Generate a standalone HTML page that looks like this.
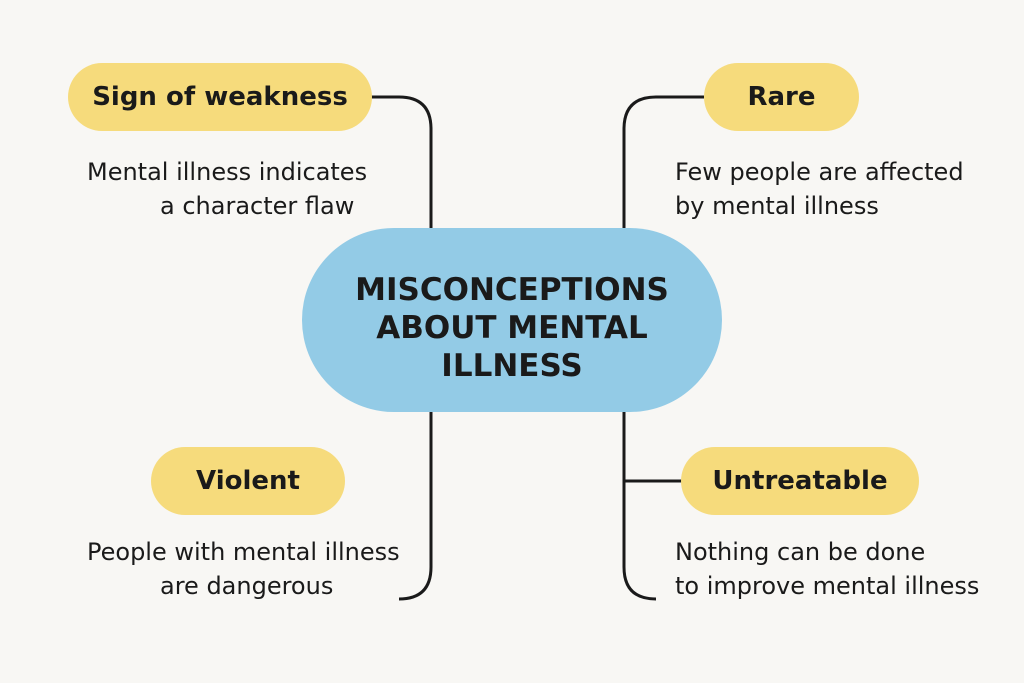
<!DOCTYPE html>
<html><head><style>
body{margin:0;width:1024px;height:683px;background:#f8f7f4;position:relative;overflow:hidden;font-family:"DejaVu Sans","Liberation Sans",sans-serif;color:#1a1a1a}
.p{position:absolute;background:#f6db7c;border-radius:34px;height:68px;display:flex;align-items:center;justify-content:center;font-weight:bold;font-size:26px}
.t{position:absolute;font-size:24px;white-space:nowrap;line-height:34px}
.c{position:absolute;left:302px;top:228px;width:420px;height:184px;border-radius:92px;background:#93cbe6;display:flex;align-items:center;justify-content:center;text-align:center;font-weight:bold;font-size:31px;line-height:38px;padding-top:16px;box-sizing:border-box}
</style></head><body>
<svg width="1024" height="683" style="position:absolute;left:0;top:0" fill="none" stroke="#1a1a1a" stroke-width="3">
<path d="M370 97 H399 Q431 97 431 129 V228"/>
<path d="M431 412 V567 Q431 599 399 599"/>
<path d="M704 97 H656 Q624 97 624 129 V228"/>
<path d="M624 412 V567 Q624 599 656 599"/>
<path d="M624 481 H684"/>
</svg>
<div class="p" style="left:68px;top:63px;width:304px">Sign of weakness</div>
<div class="p" style="left:704px;top:63px;width:155px">Rare</div>
<div class="p" style="left:151px;top:447px;width:194px">Violent</div>
<div class="p" style="left:681px;top:447px;width:238px">Untreatable</div>
<div class="t" style="left:87px;top:155px">Mental illness indicates</div>
<div class="t" style="left:160px;top:189px">a character flaw</div>
<div class="t" style="left:675px;top:155px">Few people are affected</div>
<div class="t" style="left:675px;top:189px">by mental illness</div>
<div class="t" style="left:87px;top:535px">People with mental illness</div>
<div class="t" style="left:160px;top:569px">are dangerous</div>
<div class="t" style="left:675px;top:535px">Nothing can be done</div>
<div class="t" style="left:675px;top:569px">to improve mental illness</div>
<div class="c">MISCONCEPTIONS<br>ABOUT MENTAL<br>ILLNESS</div>
</body></html>
